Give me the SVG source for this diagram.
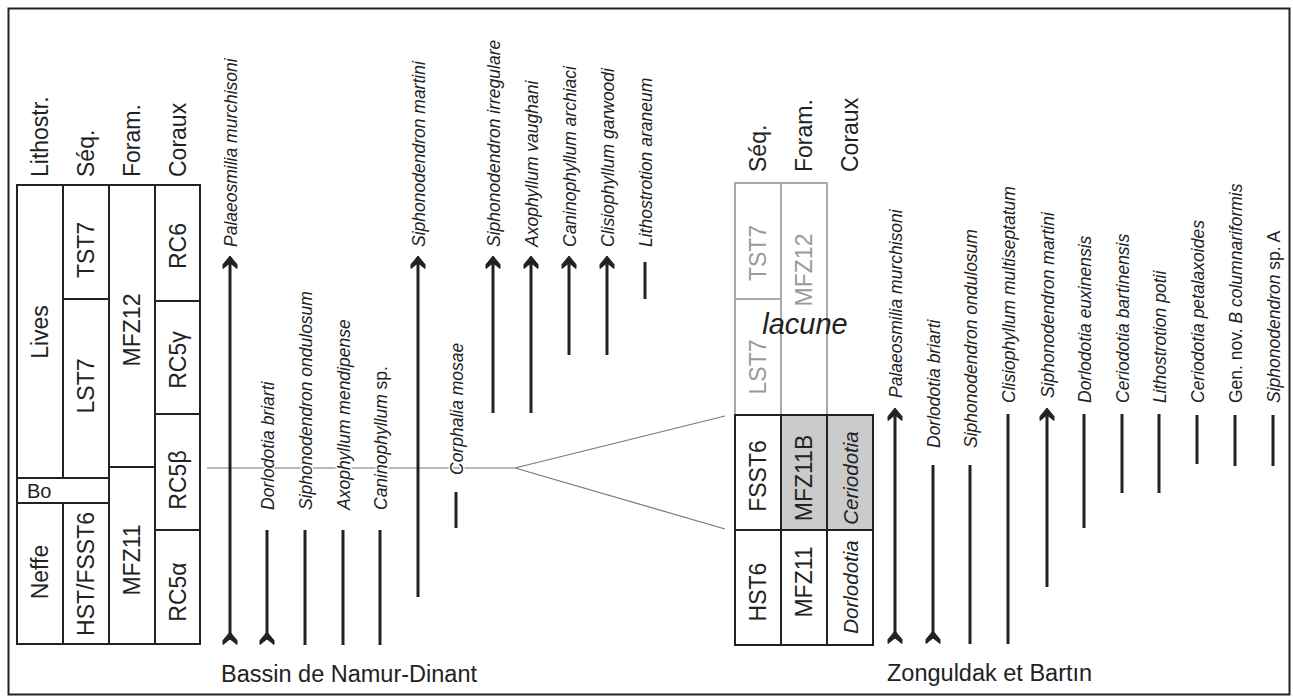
<svg xmlns="http://www.w3.org/2000/svg" width="1293" height="698" viewBox="0 0 1293 698">
<defs>
<style>
text{font-family:"Liberation Sans",Arial,sans-serif;fill:#222}
.h{font-size:23px}
.c{font-size:23px;text-anchor:middle}
.ci{font-size:20.5px;font-style:italic;text-anchor:middle}
.g{fill:#9a9a9a}
.sp{font-size:17.5px;font-style:italic;stroke:#fff;stroke-width:3px;paint-order:stroke;stroke-linejoin:round}
.up{font-style:normal}
.cell{fill:#fff;stroke:#222;stroke-width:2}
.shade{fill:#cbcbcb}
.gcell{fill:#fff;stroke:#aaa;stroke-width:2}
.rng{stroke:#222;stroke-width:3;fill:none}
.cor{stroke:#777;stroke-width:1.2;fill:none}
.lbl{font-size:23.5px}
</style>
<path id="ah" d="M0,0 L7,8.5 L7,12.5 L0,7 L-7,12.5 L-7,8.5 Z" fill="#222" stroke="#222" stroke-width="1" stroke-linejoin="round"/>
</defs>
<rect x="8.5" y="8.5" width="1281" height="686" fill="#fff" stroke="#222" stroke-width="2"/>

<g id="connectors">
<path class="cor" d="M207,468 H515 L725,416 M515,468 L725,529"/>
</g>

<g id="table-left">
<g id="hdr-left">
<text class="h" transform="translate(48,177) rotate(-90)">Lithostr.</text>
<text class="h" transform="translate(94,177) rotate(-90)">Séq.</text>
<text class="h" transform="translate(140,177) rotate(-90)">Foram.</text>
<text class="h" transform="translate(185.5,177) rotate(-90)">Coraux</text>
</g>
<g id="lives"><rect class="cell" x="17" y="185" width="46" height="293"/><text class="c" transform="translate(48,332) rotate(-90)">Lives</text></g>
<g id="bo"><rect class="cell" x="17" y="478" width="92" height="25"/><text x="27" y="498" style="font-size:20px">Bo</text></g>
<g id="neffe"><rect class="cell" x="17" y="503" width="46" height="141"/><text class="c" transform="translate(48,572) rotate(-90)">Neffe</text></g>
<g id="tst7-l"><rect class="cell" x="63" y="185" width="46" height="114"/><text class="c" transform="translate(94,250) rotate(-90)">TST7</text></g>
<g id="lst7-l"><rect class="cell" x="63" y="299" width="46" height="179"/><text class="c" transform="translate(94,386) rotate(-90)">LST7</text></g>
<g id="hstfsst6"><rect class="cell" x="63" y="503" width="46" height="141"/><text class="c" transform="translate(94,574) rotate(-90)">HST/FSST6</text></g>
<g id="mfz12-l"><rect class="cell" x="109" y="185" width="46" height="282"/><text class="c" transform="translate(140,330) rotate(-90)">MFZ12</text></g>
<g id="mfz11-l"><rect class="cell" x="109" y="467" width="46" height="177"/><text class="c" transform="translate(140,560) rotate(-90)">MFZ11</text></g>
<g id="rc6"><rect class="cell" x="155" y="185" width="45" height="116"/><text class="c" transform="translate(185.5,246) rotate(-90)">RC6</text></g>
<g id="rc5g"><rect class="cell" x="155" y="301" width="45" height="113"/><text class="c" transform="translate(185.5,360) rotate(-90)">RC5γ</text></g>
<g id="rc5b"><rect class="cell" x="155" y="414" width="45" height="116"/><text class="c" transform="translate(185.5,480) rotate(-90)">RC5β</text></g>
<g id="rc5a"><rect class="cell" x="155" y="530" width="45" height="114"/><text class="c" transform="translate(185.5,592) rotate(-90)">RC5α</text></g>
</g>

<g id="table-right">
<g id="hdr-right">
<text class="h" transform="translate(766,172) rotate(-90)">Séq.</text>
<text class="h" transform="translate(812,172) rotate(-90)">Foram.</text>
<text class="h" transform="translate(858,172) rotate(-90)">Coraux</text>
</g>
<g id="tst7-r"><rect class="gcell" x="735" y="183" width="46" height="116"/><text class="c g" transform="translate(766,253) rotate(-90)">TST7</text></g>
<g id="lst7-r"><rect class="gcell" x="735" y="299" width="46" height="116"/><text class="c g" transform="translate(766,367) rotate(-90)">LST7</text></g>
<g id="mfz12-r"><rect class="gcell" x="781" y="183" width="46" height="232"/><text class="c g" transform="translate(812,270) rotate(-90)">MFZ12</text></g>
<g id="fsst6"><rect class="cell" x="735" y="415" width="46" height="115"/><text class="c" transform="translate(766,476) rotate(-90)">FSST6</text></g>
<g id="mfz11b"><rect class="cell shade" x="781" y="415" width="46" height="115"/><text class="c" transform="translate(812,478) rotate(-90)">MFZ11B</text></g>
<g id="ceriodotia"><rect class="cell shade" x="827" y="415" width="46" height="115"/><text class="ci" transform="translate(857.5,478) rotate(-90)">Ceriodotia</text></g>
<g id="hst6"><rect class="cell" x="735" y="530" width="46" height="115"/><text class="c" transform="translate(766,592) rotate(-90)">HST6</text></g>
<g id="mfz11-r"><rect class="cell" x="781" y="530" width="46" height="115"/><text class="c" transform="translate(812,582) rotate(-90)">MFZ11</text></g>
<g id="dorlodotia"><rect class="cell" x="827" y="530" width="46" height="115"/><text class="ci" transform="translate(857.5,587) rotate(-90)">Dorlodotia</text></g>
<text id="lacune" x="805" y="334" style="font-size:29px;font-style:italic;text-anchor:middle">lacune</text>
</g>

<g id="ranges-left">
<g><use href="#ah" x="230" y="256"/><path class="rng" d="M230,262 V638"/><use href="#ah" x="230" y="632"/><text class="sp" transform="translate(236.5,247) rotate(-90)">Palaeosmilia murchisoni</text></g>
<g><path class="rng" d="M267,530 V638"/><use href="#ah" x="267" y="632"/><text class="sp" transform="translate(273.5,510) rotate(-90)">Dorlodotia briarti</text></g>
<g><path class="rng" d="M305,530 V645"/><text class="sp" transform="translate(311.5,510) rotate(-90)">Siphonodendron ondulosum</text></g>
<g><path class="rng" d="M343,530 V645"/><text class="sp" transform="translate(349.5,510) rotate(-90)">Axophyllum mendipense</text></g>
<g><path class="rng" d="M380,530 V645"/><text class="sp" transform="translate(386.5,510) rotate(-90)">Caninophyllum <tspan class="up">sp.</tspan></text></g>
<g><use href="#ah" x="418" y="256"/><path class="rng" d="M418,262 V597"/><text class="sp" transform="translate(424.5,247) rotate(-90)">Siphonodendron martini</text></g>
<g><path class="rng" d="M456,492 V528"/><text class="sp" transform="translate(462.5,475) rotate(-90)">Corphalia mosae</text></g>
<g><use href="#ah" x="493" y="256"/><path class="rng" d="M493,262 V413"/><text class="sp" transform="translate(499.5,247) rotate(-90)">Siphonodendron irregulare</text></g>
<g><use href="#ah" x="531" y="256"/><path class="rng" d="M531,262 V413"/><text class="sp" transform="translate(537.5,247) rotate(-90)">Axophyllum vaughani</text></g>
<g><use href="#ah" x="569" y="256"/><path class="rng" d="M569,262 V355"/><text class="sp" transform="translate(575.5,247) rotate(-90)">Caninophyllum archiaci</text></g>
<g><use href="#ah" x="607" y="256"/><path class="rng" d="M607,262 V355"/><text class="sp" transform="translate(613.5,247) rotate(-90)">Clisiophyllum garwoodi</text></g>
<g><path class="rng" d="M645,262 V299"/><text class="sp" transform="translate(651.5,247) rotate(-90)">Lithostrotion araneum</text></g>
</g>

<g id="ranges-right">
<g><use href="#ah" x="895" y="408"/><path class="rng" d="M895,414 V638"/><use href="#ah" x="895" y="631"/><text class="sp" transform="translate(901.5,398) rotate(-90)">Palaeosmilia murchisoni</text></g>
<g><path class="rng" d="M933,465 V638"/><use href="#ah" x="933" y="631"/><text class="sp" transform="translate(939.5,448) rotate(-90)">Dorlodotia briarti</text></g>
<g><path class="rng" d="M970,465 V644"/><text class="sp" transform="translate(976.5,448) rotate(-90)">Siphonodendron ondulosum</text></g>
<g><path class="rng" d="M1008,414 V644"/><text class="sp" transform="translate(1014.5,403) rotate(-90)">Clisiophyllum multiseptatum</text></g>
<g><use href="#ah" x="1047" y="408"/><path class="rng" d="M1047,414 V587"/><text class="sp" transform="translate(1053.5,398) rotate(-90)">Siphonodendron martini</text></g>
<g><path class="rng" d="M1084,414 V528"/><text class="sp" transform="translate(1090.5,403) rotate(-90)">Dorlodotia euxinensis</text></g>
<g><path class="rng" d="M1122,414 V493"/><text class="sp" transform="translate(1128.5,403) rotate(-90)">Ceriodotia bartinensis</text></g>
<g><path class="rng" d="M1159,414 V493"/><text class="sp" transform="translate(1165.5,403) rotate(-90)">Lithostrotion potii</text></g>
<g><path class="rng" d="M1197,415 V464"/><text class="sp" transform="translate(1203.5,403) rotate(-90)">Ceriodotia petalaxoides</text></g>
<g><path class="rng" d="M1235,415 V466"/><text class="sp" transform="translate(1241.5,403) rotate(-90)"><tspan class="up">Gen. nov. </tspan>B columnariformis</text></g>
<g><path class="rng" d="M1273,415 V466"/><text class="sp" transform="translate(1279.5,403) rotate(-90)">Siphonodendron <tspan class="up">sp. A</tspan></text></g>
</g>

<g id="labels">
<text class="lbl" x="221" y="682">Bassin de Namur-Dinant</text>
<text class="lbl" x="887" y="681">Zonguldak et Bartın</text>
</g>
</svg>
